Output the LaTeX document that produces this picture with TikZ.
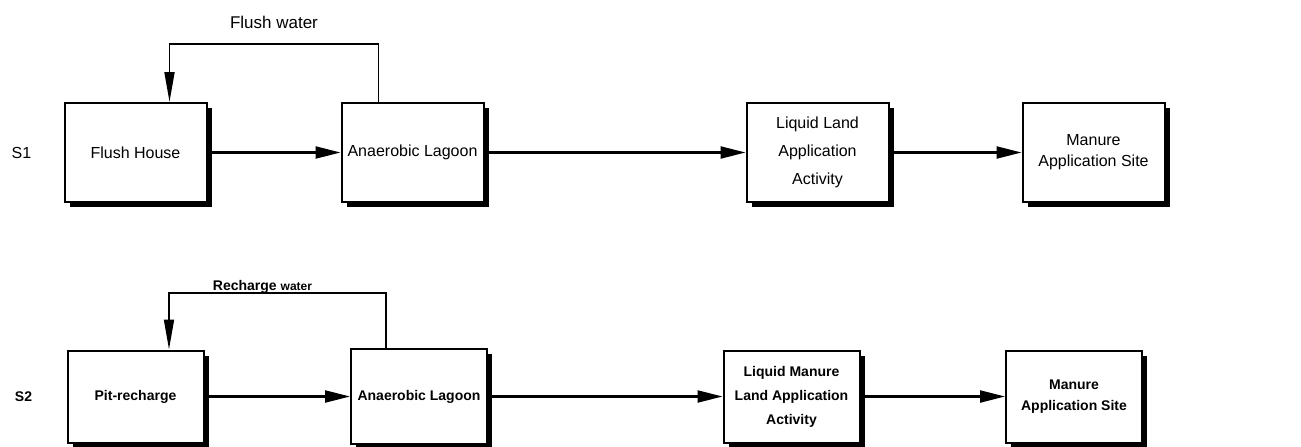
\documentclass[tikz,border=0pt]{standalone}
\usepackage{fontspec}
\setmainfont{Liberation Sans}
\usetikzlibrary{arrows.meta,shadows}

\begin{document}
\begin{tikzpicture}[
    x=1pt, y=1pt,
    stage/.style={
      rectangle,
      minimum width=71pt,
      minimum height=49.5pt,
      inner sep=2pt,
      text centered,
      align=center,
      draw=black,
      fill=white,
      line width=1pt,
      drop shadow={shadow xshift=2.5pt, shadow yshift=-2.5pt, fill=black, opacity=1},
      font=\fontsize{8}{10}\selectfont
    },
    boldstage/.style={
      stage,
      minimum width=68pt,
      minimum height=46pt,
      font=\fontsize{7}{12}\selectfont\bfseries
    },
    arrow/.style={
      line width=1.1pt,
      -{Triangle[length=12.5pt,width=6pt]}
    },
    feedback/.style={
      line width=0.9pt,
      -{Triangle[length=15pt,width=5pt]}
    },
    label/.style={
      inner sep=0pt
    }
  ]

    \useasboundingbox (0,0) rectangle (650.5,223);

    % Top row: S1 flush system
    \node (flushA) [stage] at (67.75,146.75) {Flush House};
    \node (lagoonA) [stage, right of=flushA, node distance=138.5pt] {Anaerobic Lagoon};
    \node (liquidA) [stage, right of=lagoonA, node distance=202.5pt, font=\fontsize{8}{14}\selectfont] {Liquid Land\\Application\\Activity};
    \node (siteA) [stage, right of=liquidA, node distance=138pt, font=\fontsize{8}{10.5}\selectfont] {Manure\\Application Site};
    \node (sA) [left of=flushA, node distance=57pt, font=\fontsize{8}{10}\selectfont] {S1};

    % Bottom row: S2 pit-recharge system
    \node (pitB) [boldstage, below of=flushA, node distance=122pt] {Pit-recharge};
    \node (lagoonB) [boldstage, right of=pitB, node distance=141.75pt, minimum height=47.5pt] {Anaerobic Lagoon};
    \node (liquidB) [boldstage, right of=lagoonB, node distance=186.25pt] {Liquid Manure\\Land Application\\Activity};
    \node (siteB) [boldstage, right of=liquidB, node distance=141.25pt, font=\fontsize{7}{10.5}\selectfont\bfseries] {Manure\\Application Site};
    \node (sB) [left of=pitB, node distance=56pt, font=\fontsize{7}{10}\selectfont\bfseries] {S2};

    % Arrows along the rows
    \draw [arrow] (flushA) -- (lagoonA);
    \draw [arrow] (lagoonA) -- (liquidA);
    \draw [arrow] (liquidA) -- (siteA);

    \draw [arrow] (pitB) -- (lagoonB);
    \draw [arrow] (lagoonB) -- (liquidB);
    \draw [arrow] (liquidB) -- (siteB);

    % Water sent back to the houses
    \draw [feedback] ([xshift=-17pt]lagoonA.north) -- ++(0,29)
      -| node[pos=0.25, above=7pt, label, font=\fontsize{8.5}{10}\selectfont] {Flush water} ([xshift=17pt]flushA.north);

    \draw [feedback] ([xshift=-16.5pt]lagoonB.north) -- ++(0,27.5)
      -| node[pos=0.25, anchor=base, yshift=1.5pt, xshift=-7.5pt, label, font=\fontsize{7}{10}\selectfont\bfseries] {Recharge {\fontsize{6}{10}\selectfont water}} ([xshift=16.75pt]pitB.north);

  \end{tikzpicture}
\end{document}
